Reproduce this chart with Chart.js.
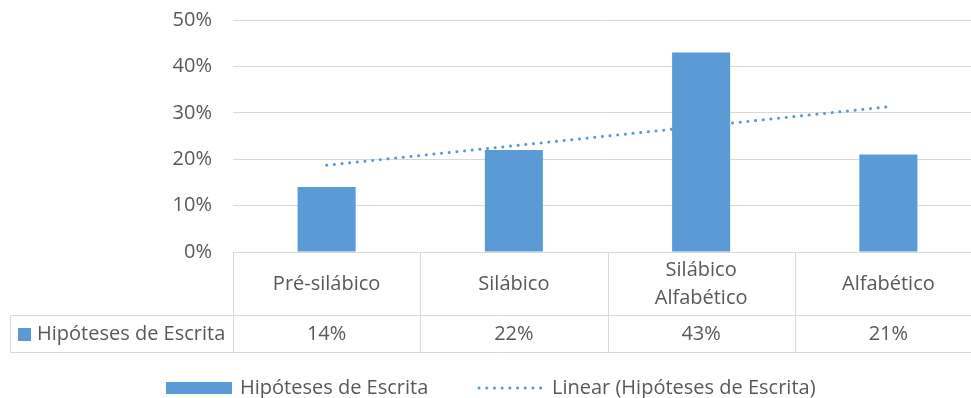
<!DOCTYPE html>
<html>
<head>
<meta charset="utf-8">
<script src="https://cdn.jsdelivr.net/npm/chart.js@4"></script>
<style>
    html, body { margin: 0; padding: 0; background: #fff; overflow: hidden; }
    #wrap { width: 982px; height: 398px; }
</style>
</head>
<body>
<div id="wrap"><canvas id="chart"></canvas></div>
<script>
const categories = [['Pré-silábico'], ['Silábico'], ['Silábico', 'Alfabético'], ['Alfabético']];
const seriesName = 'Hipóteses de Escrita';
const values = [14, 22, 43, 21];
// linear trendline
const trendValues = [18.7, 22.9, 27.1, 31.3];
const yTicks = [0, 10, 20, 30, 40, 50];

const blue = '#5b9bd5';
const gridColor = '#d9d9d9';
const textColor = '#595959';
const fontFamily = '"Open Sans", "Liberation Sans", sans-serif';

const tablePlugin = {
    id: 'dataTable',
    afterDraw(chart) {
        const ctx = chart.ctx;
        const x = chart.scales.x;
        const area = chart.chartArea;
        const left = area.left;
        const right = area.right;
        const top = Math.round(area.bottom) + 0.5;
        const mid = top + 63;
        const bot = mid + 37;
        const outer = 10.5;

        ctx.save();
        ctx.strokeStyle = gridColor;
        ctx.lineWidth = 1;
        ctx.beginPath();
        ctx.moveTo(left, top); ctx.lineTo(right, top);
        ctx.moveTo(outer, mid); ctx.lineTo(right, mid);
        ctx.moveTo(outer, bot); ctx.lineTo(right, bot);
        ctx.moveTo(outer, mid); ctx.lineTo(outer, bot);
        const step = (right - left) / categories.length;
        for (let i = 0; i <= categories.length; i++) {
            const lx = Math.round(left + i * step) + 0.5;
            ctx.moveTo(lx, top); ctx.lineTo(lx, bot);
        }
        ctx.stroke();

        ctx.fillStyle = textColor;
        ctx.font = '20px ' + fontFamily;
        ctx.textAlign = 'center';
        ctx.textBaseline = 'middle';
        categories.forEach((lines, i) => {
            const cx = x.getPixelForValue(i);
            const cy = (top + mid) / 2;
            const lh = 28;
            lines.forEach((t, j) => {
                ctx.fillText(t, cx, cy + (j - (lines.length - 1) / 2) * lh);
            });
            ctx.fillText(values[i] + '%', cx, (mid + bot) / 2);
        });

        // series key in the table
        ctx.fillStyle = blue;
        ctx.fillRect(18, (mid + bot) / 2 - 6, 13, 13);
        ctx.fillStyle = textColor;
        ctx.textAlign = 'left';
        ctx.fillText(seriesName, 37, (mid + bot) / 2);

        // legend
        const ly = 388;
        ctx.fillStyle = blue;
        ctx.fillRect(166, ly - 6, 66, 12);
        ctx.fillStyle = textColor;
        ctx.fillText(seriesName, 240, ly);
        ctx.strokeStyle = blue;
        ctx.lineWidth = 3;
        ctx.lineCap = 'round';
        ctx.setLineDash([0.1, 7.6]);
        ctx.beginPath();
        ctx.moveTo(479, ly); ctx.lineTo(542, ly);
        ctx.stroke();
        ctx.setLineDash([]);
        ctx.fillStyle = textColor;
        ctx.fillText('Linear (' + seriesName + ')', 552, ly);
        ctx.restore();
    }
};

new Chart(document.getElementById('chart'), {
    data: {
        labels: categories.map(c => c.join(' ')),
        datasets: [
            {
                type: 'line',
                label: 'Linear (' + seriesName + ')',
                data: trendValues,
                borderColor: blue,
                borderWidth: 3,
                borderCapStyle: 'round',
                borderDash: [0.1, 7.6],
                pointRadius: 0,
                fill: false,
                order: 0
            },
            {
                type: 'bar',
                label: seriesName,
                data: values,
                backgroundColor: blue,
                categoryPercentage: 1,
                barPercentage: 0.31,
                order: 1
            }
        ]
    },
    options: {
        responsive: true,
        maintainAspectRatio: false,
        animation: false,
        layout: { padding: { top: 20, right: 0, bottom: 146, left: 0 } },
        plugins: {
            legend: { display: false },
            tooltip: { enabled: false }
        },
        scales: {
            x: { display: false },
            y: {
                min: 0,
                max: 50,
                afterBuildTicks(scale) {
                    scale.ticks = yTicks.map(v => ({ value: v }));
                },
                afterFit(scale) {
                    scale.width = 233;
                    scale.paddingTop = 0;
                    scale.paddingBottom = 0;
                },
                border: { display: false },
                grid: { color: gridColor, lineWidth: 1, drawTicks: false },
                ticks: {
                    padding: 21,
                    color: textColor,
                    font: { size: 20, family: fontFamily },
                    callback: v => v + '%'
                }
            }
        }
    },
    plugins: [tablePlugin]
});
</script>
</body>
</html>
